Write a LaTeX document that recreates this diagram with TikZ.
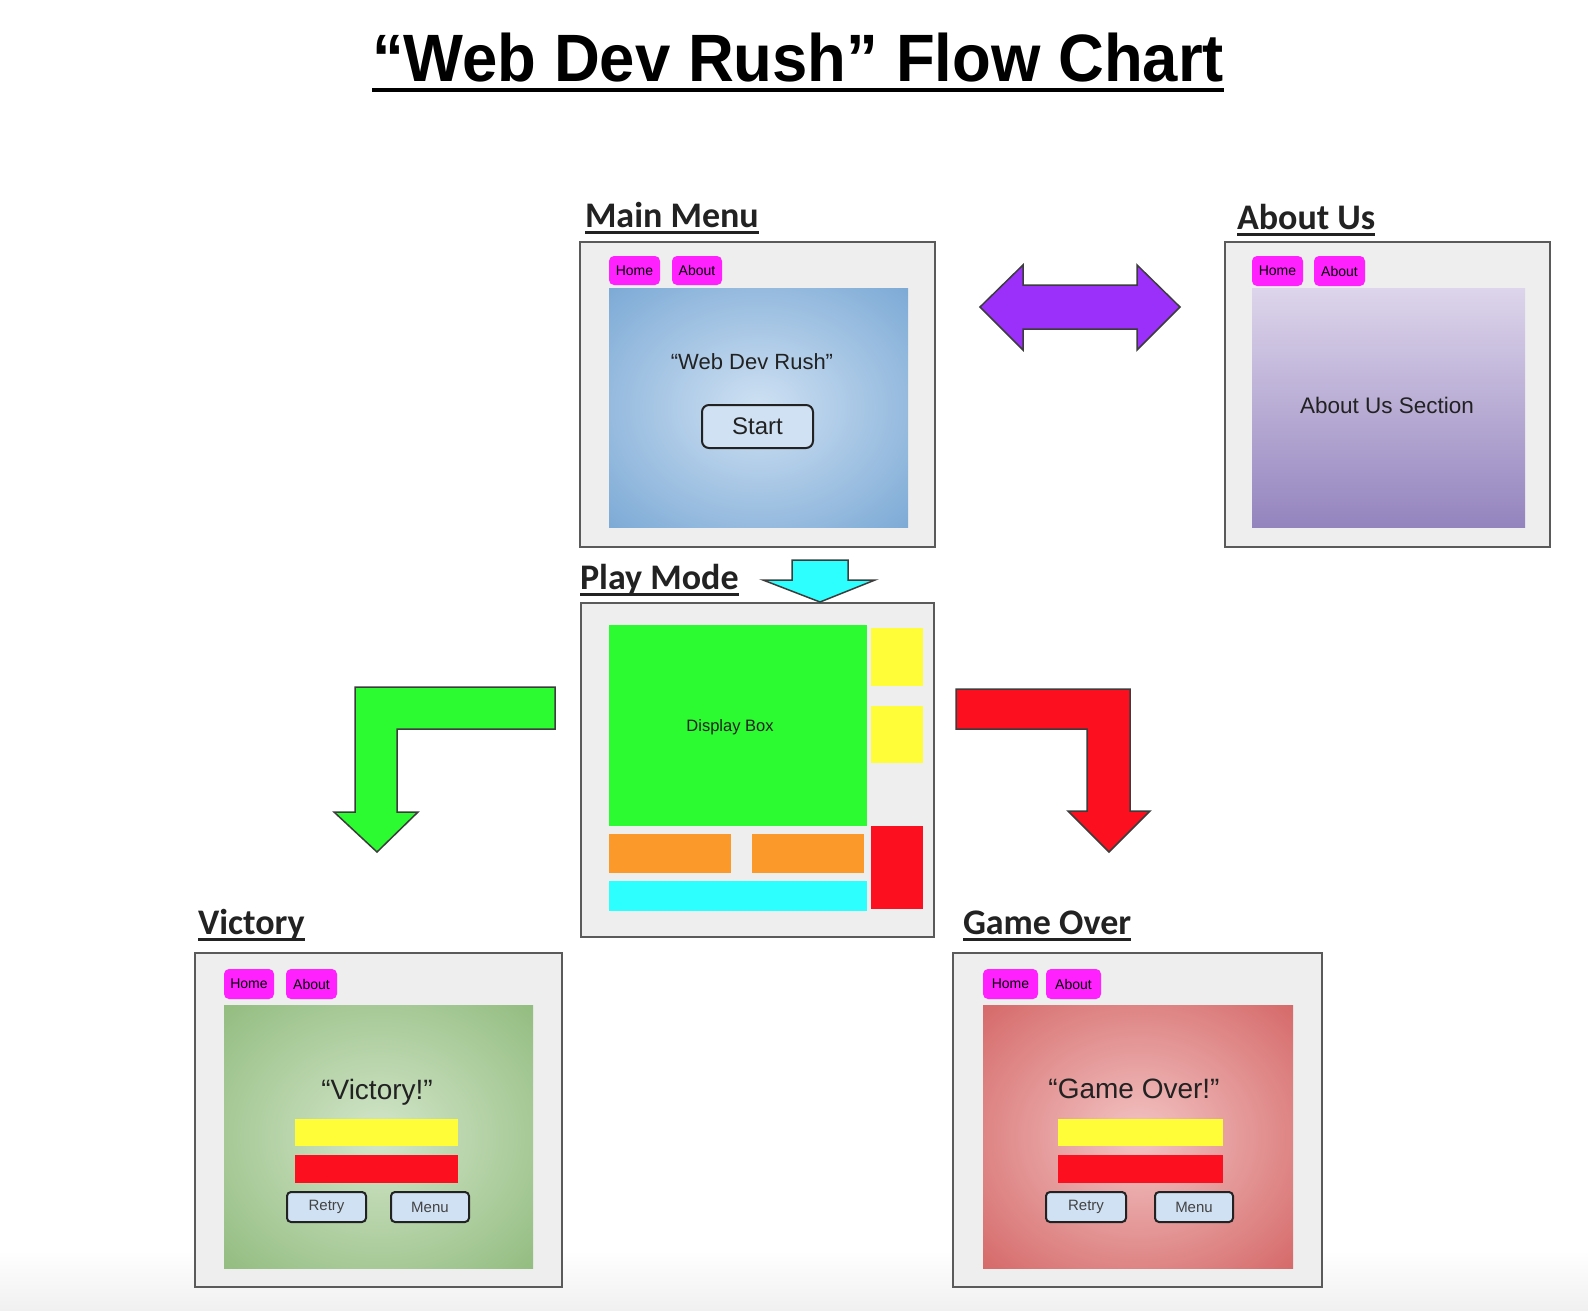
\documentclass[tikz,border=0pt]{standalone}
\usepackage{fontspec}
\setmainfont{Liberation Sans}
\newfontfamily\lblfont{Carlito}
\definecolor{frameFill}{HTML}{EEEEEE}
\definecolor{frameLine}{HTML}{5A5A5A}
\definecolor{navMag}{HTML}{FF22FF}
\definecolor{blueIn}{HTML}{CFE1F3}
\definecolor{blueOut}{HTML}{7BA9D5}
\definecolor{purpTop}{HTML}{DDD5EB}
\definecolor{purpBot}{HTML}{9484BE}
\definecolor{grnIn}{HTML}{D3E6CA}
\definecolor{grnOut}{HTML}{92BC7F}
\definecolor{redIn}{HTML}{F3C4C4}
\definecolor{redOut}{HTML}{D56868}
\definecolor{dispGreen}{HTML}{2BFB30}
\definecolor{cYel}{HTML}{FFFC38}
\definecolor{cRed}{HTML}{FC0F1E}
\definecolor{cOrange}{HTML}{FB9A2B}
\definecolor{cCyan}{HTML}{2CFFFE}
\definecolor{cPurple}{HTML}{9B30FA}
\definecolor{btnFill}{HTML}{D0E1F3}
\definecolor{lblText}{HTML}{222222}
\definecolor{arrowLine}{HTML}{3C3C3C}
\definecolor{bgGray}{HTML}{F0F0F0}
\pgfdeclareradialshading{blueRad}{\pgfpoint{0bp}{0bp}}{color(0bp)=(blueIn); color(36bp)=(blueOut); color(50bp)=(blueOut)}
\pgfdeclareradialshading{grnRad}{\pgfpoint{0bp}{0bp}}{color(0bp)=(grnIn); color(36bp)=(grnOut); color(50bp)=(grnOut)}
\pgfdeclareradialshading{redRad}{\pgfpoint{0bp}{0bp}}{color(0bp)=(redIn); color(36bp)=(redOut); color(50bp)=(redOut)}
\newcommand{\rbox}[6]{\node[#1, minimum width={#5-#3}, minimum height={#6-#4}] (#2) at ({(#3+#5)/2},{(#4+#6)/2})}
\tikzset{
  base/.style={inner sep=0pt, outer sep=0pt},
  frame/.style={base, draw=frameLine, line width=2.5pt, fill=frameFill},
  navbtn/.style={base, fill=navMag, rounded corners=5pt, font=\fontsize{14}{14}\selectfont},
  panelblue/.style={base, shade, shading=blueRad},
  panelgrn/.style={base, shade, shading=grnRad},
  panelred/.style={base, shade, shading=redRad},
  panelpurp/.style={base, top color=purpTop, bottom color=purpBot},
  solid/.style={base, fill=#1},
  uibtn/.style={base, fill=btnFill, draw=lblText, line width=2pt, rounded corners=4pt, font=\fontsize{15}{15}\selectfont, text=lblText!85},
  lbl/.style={base, anchor=base west, font=\lblfont\bfseries\fontsize{36}{40}\selectfont, text=lblText},
  ul/.style={line width=3pt, draw=lblText},
  blockarrow/.style={draw=arrowLine, line width=1.5pt, line join=miter, fill=#1},
  paneltext/.style={base, text=lblText, font=\fontsize{#1}{#1}\selectfont}
}
\begin{document}
\begin{tikzpicture}[x=1pt,y=-1pt]
\useasboundingbox (0,0) rectangle (1588,1310);
\fill[white] (0,0) rectangle (1588,1310);
\shade[top color=white, bottom color=bgGray] (0,1250) rectangle (1588,1310);

% title
\node[base, anchor=base, font=\bfseries\fontsize{67}{70}\selectfont] (title) at (798,81) {\scalebox{0.947}[1]{“Web Dev Rush” Flow Chart}};
\draw[line width=4.5pt] ([yshift=-9pt]title.base west) -- ([yshift=-9pt]title.base east);

% ---------- Main Menu ----------
\node[lbl] (mmLbl) at (585,227) {Main Menu};
\draw[ul] ([yshift=-5pt]mmLbl.base west) -- ([yshift=-5pt]mmLbl.base east);
\rbox{frame}{mmF}{580}{242}{935}{547} {};
\rbox{navbtn}{mmHome}{609}{256}{660}{285} {Home};
\rbox{navbtn}{mmAbout}{672}{256}{722}{285} {About};
\rbox{panelblue}{mmPanel}{609}{288}{908}{527} {};
\node[paneltext=22] (mmText) at (752,362) {“Web Dev Rush”};
\rbox{uibtn, rounded corners=7pt, font=\fontsize{24}{24}\selectfont, text=lblText}{mmStart}{702}{405}{813}{448} {Start};

% ---------- About Us ----------
\node[lbl] (auLbl) at (1237,229) {About Us};
\draw[ul] ([yshift=-5pt]auLbl.base west) -- ([yshift=-5pt]auLbl.base east);
\rbox{frame}{auF}{1225}{242}{1550}{547} {};
\rbox{navbtn}{auHome}{1252}{256}{1303}{286} {Home};
\rbox{navbtn}{auAbout}{1314}{256}{1365}{286} {About};
\rbox{panelpurp}{auPanel}{1252}{288}{1525}{527} {};
\node[paneltext=22.5] (auText) at (1387,405) {About Us Section};

% purple double arrow
\draw[blockarrow=cPurple] (980,307) -- (1023,265) -- (1023,285) -- (1137,285) -- (1137,265) -- (1180,307) -- (1137,350) -- (1137,329) -- (1023,329) -- (1023,350) -- cycle;

% ---------- Play Mode ----------
\node[lbl] (pmLbl) at (580,589) {Play Mode};
\draw[ul] ([yshift=-5pt]pmLbl.base west) -- ([yshift=-5pt]pmLbl.base east);
\rbox{frame}{pmF}{581}{603}{934}{937} {};
\rbox{solid=dispGreen, font=\fontsize{17}{17}\selectfont, text=lblText}{pmDisp}{609}{625}{867}{826} {};
\node[paneltext=16.5] (pmDispText) at (730,727) {Display Box};
\rbox{solid=cYel}{pmY1}{871}{628}{923}{686} {};
\rbox{solid=cYel}{pmY2}{871}{706}{923}{763} {};
\rbox{solid=cRed}{pmR}{871}{826}{923}{909} {};
\rbox{solid=cOrange}{pmO1}{609}{834}{731}{873} {};
\rbox{solid=cOrange}{pmO2}{752}{834}{864}{873} {};
\rbox{solid=cCyan}{pmC}{609}{881}{867}{911} {};

% cyan down arrow
\draw[blockarrow=cCyan] (792,560) -- (848,560) -- (848,580) -- (875,580) -- (820,602) -- (763,580) -- (792,580) -- cycle;

% green L arrow
\draw[blockarrow=dispGreen] (555,687) -- (355,687) -- (355,812) -- (334,812) -- (377,852) -- (418,812) -- (397,812) -- (397,729) -- (555,729) -- cycle;

% red L arrow
\draw[blockarrow=cRed] (956,689) -- (1130,689) -- (1130,811) -- (1150,811) -- (1109,852) -- (1068,811) -- (1087,811) -- (1087,729) -- (956,729) -- cycle;

% ---------- Victory ----------
\node[lbl] (vLbl) at (198,934) {Victory};
\draw[ul] ([yshift=-5pt]vLbl.base west) -- ([yshift=-5pt]vLbl.base east);
\rbox{frame}{vF}{195}{953}{562}{1287} {};
\rbox{navbtn}{vHome}{224}{969}{274}{999} {Home};
\rbox{navbtn}{vAbout}{286}{969}{337}{999} {About};
\rbox{panelgrn}{vPanel}{224}{1005}{533}{1268} {};
\node[paneltext=28] (vText) at (377,1092) {“Victory!”};
\rbox{solid=cYel}{vY}{295}{1119}{458}{1146} {};
\rbox{solid=cRed}{vR}{295}{1155}{458}{1183} {};
\rbox{uibtn}{vRetry}{287}{1192}{366}{1222} {Retry};
\rbox{uibtn}{vMenu}{391}{1192}{469}{1222} {Menu};

% ---------- Game Over ----------
\node[lbl] (gLbl) at (963,934) {Game Over};
\draw[ul] ([yshift=-5pt]gLbl.base west) -- ([yshift=-5pt]gLbl.base east);
\rbox{frame}{gF}{953}{953}{1322}{1287} {};
\rbox{navbtn}{gHome}{983}{969}{1038}{999} {Home};
\rbox{navbtn}{gAbout}{1046}{969}{1101}{999} {About};
\rbox{panelred}{gPanel}{983}{1005}{1293}{1268} {};
\node[paneltext=28] (gText) at (1134,1089) {“Game Over!”};
\rbox{solid=cYel}{gY}{1058}{1119}{1223}{1146} {};
\rbox{solid=cRed}{gR}{1058}{1155}{1223}{1183} {};
\rbox{uibtn}{gRetry}{1046}{1192}{1126}{1222} {Retry};
\rbox{uibtn}{gMenu}{1155}{1192}{1233}{1222} {Menu};
\end{tikzpicture}
\end{document}
